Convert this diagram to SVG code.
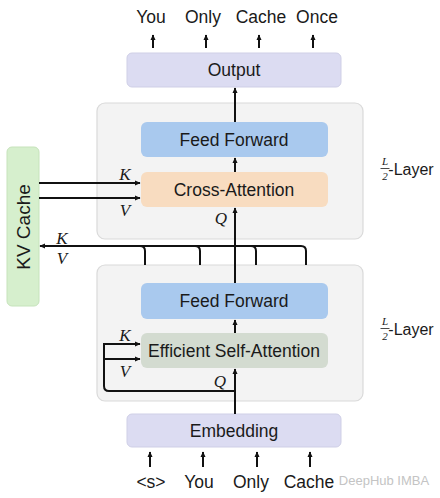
<svg xmlns="http://www.w3.org/2000/svg" width="440" height="498" viewBox="0 0 440 498">
<defs>
<marker id="ah" viewBox="0 0 10 10" refX="9" refY="5" markerWidth="6" markerHeight="6" orient="auto-start-reverse" markerUnits="userSpaceOnUse">
<path d="M0,0.5 L10,5 L0,9.5 z" fill="#111"/>
</marker>
<style>
.t{font-family:"Liberation Sans",Arial,sans-serif;font-size:17.5px;fill:#1a1a1a;text-anchor:middle;dominant-baseline:central}
.m{font-family:"Liberation Serif","Times New Roman",serif;font-style:italic;font-size:17px;fill:#1a1a1a;text-anchor:middle;dominant-baseline:central}
.f{font-family:"Liberation Serif","Times New Roman",serif;font-style:italic;font-size:11px;fill:#1a1a1a;text-anchor:middle;dominant-baseline:central}
.c{fill:none;stroke:#111;stroke-width:2}
.a{marker-end:url(#ah)}
.big{fill:#f3f3f3;stroke:#dadada;stroke-width:1.2}
.io{fill:#dcdcf2;stroke:#cfcfe6;stroke-width:1}
.ff{fill:#a9c9ee}
.ca{fill:#f8dcc0}
.es{fill:#d3dbd0}
.kv{fill:#d6efcd;stroke:#c6e3bb;stroke-width:1}
</style>
</defs>
<rect width="440" height="498" fill="#ffffff"/>

<g id="layer-upper"><rect class="big" x="97" y="103" width="266" height="136" rx="8"/></g>
<g id="layer-lower"><rect class="big" x="97" y="265" width="266" height="136" rx="8"/></g>

<g id="output"><rect class="io" x="127" y="53" width="214" height="34" rx="5"/><text class="t" x="234" y="70">Output</text></g>
<g id="ff-upper"><rect class="ff" x="141" y="122" width="187" height="35" rx="6"/><text class="t" x="234" y="139.5">Feed Forward</text></g>
<g id="cross-attention"><rect class="ca" x="141" y="172" width="187" height="35" rx="6"/><text class="t" x="234" y="189.5">Cross-Attention</text></g>
<g id="ff-lower"><rect class="ff" x="141" y="283" width="187" height="36" rx="6"/><text class="t" x="234" y="301">Feed Forward</text></g>
<g id="self-attention"><rect class="es" x="141" y="333" width="187" height="35" rx="6"/><text class="t" x="234" y="350.5">Efficient Self-Attention</text></g>
<g id="embedding"><rect class="io" x="127" y="414" width="214" height="33" rx="5"/><text class="t" x="234" y="431">Embedding</text></g>
<g id="kv-cache"><rect class="kv" x="7" y="147" width="32" height="159" rx="5"/><text class="t" x="23" y="227" transform="rotate(-90 23 227)" style="font-size:19px">KV Cache</text></g>

<g id="connectors">
<line class="c a" x1="153" y1="48" x2="153" y2="35"/>
<line class="c a" x1="206" y1="48" x2="206" y2="35"/>
<line class="c a" x1="259" y1="48" x2="259" y2="35"/>
<line class="c a" x1="313" y1="48" x2="313" y2="35"/>

<line class="c a" x1="150" y1="467" x2="150" y2="452"/>
<line class="c a" x1="203" y1="467" x2="203" y2="452"/>
<line class="c a" x1="257" y1="467" x2="257" y2="452"/>
<line class="c a" x1="310" y1="467" x2="310" y2="452"/>

<line class="c a" x1="235" y1="414" x2="235" y2="369"/>
<line class="c a" x1="235" y1="333" x2="235" y2="320"/>
<line class="c a" x1="235" y1="283" x2="235" y2="208"/>
<line class="c a" x1="235" y1="172" x2="235" y2="158"/>
<line class="c a" x1="235" y1="122" x2="235" y2="88"/>

<path class="c" d="M235,391 H109 Q104,391 104,386 V344"/>
<line class="c a" x1="103" y1="344" x2="140" y2="344"/>
<line class="c a" x1="104" y1="359" x2="140" y2="359"/>

<line class="c a" x1="39" y1="183" x2="140" y2="183"/>
<line class="c a" x1="39" y1="198" x2="140" y2="198"/>

<path class="c a" d="M301,246 Q306,246 306,251 V265 M301,246 H40"/>
<path class="c" d="M140,246 Q145,246 145,251 V265"/>
<path class="c" d="M195,246 Q200,246 200,251 V265"/>
<path class="c" d="M251,246 Q256,246 256,251 V265"/>
</g>

<g id="labels">
<text class="t" x="151" y="17">You</text>
<text class="t" x="203" y="17">Only</text>
<text class="t" x="261" y="17">Cache</text>
<text class="t" x="317" y="17">Once</text>
<text class="t" x="151" y="482">&lt;s&gt;</text>
<text class="t" x="199" y="482">You</text>
<text class="t" x="251" y="482">Only</text>
<text class="t" x="309" y="482">Cache</text>
<text class="m" x="125" y="174">K</text>
<text class="m" x="125" y="210">V</text>
<text class="m" x="221" y="218">Q</text>
<text class="m" x="62" y="238">K</text>
<text class="m" x="62" y="258">V</text>
<text class="m" x="125" y="335">K</text>
<text class="m" x="125" y="371">V</text>
<text class="m" x="220" y="381">Q</text>
<g id="layer-label-upper">
<text class="f" x="385" y="161">L</text>
<line x1="380.5" y1="168.5" x2="389.5" y2="168.5" stroke="#1a1a1a" stroke-width="0.8"/>
<text class="f" x="385" y="176">2</text>
<text class="t" x="411" y="169" style="font-size:16px">-Layer</text>
</g>
<g id="layer-label-lower">
<text class="f" x="385" y="321">L</text>
<line x1="380.5" y1="328.5" x2="389.5" y2="328.5" stroke="#1a1a1a" stroke-width="0.8"/>
<text class="f" x="385" y="336">2</text>
<text class="t" x="411" y="329" style="font-size:16px">-Layer</text>
</g>
<text x="384" y="480" style="font-family:'Liberation Sans',Arial,sans-serif;font-size:13px;fill:#c4c4c4;text-anchor:middle;dominant-baseline:central">DeepHub IMBA</text>
</g>
</svg>
